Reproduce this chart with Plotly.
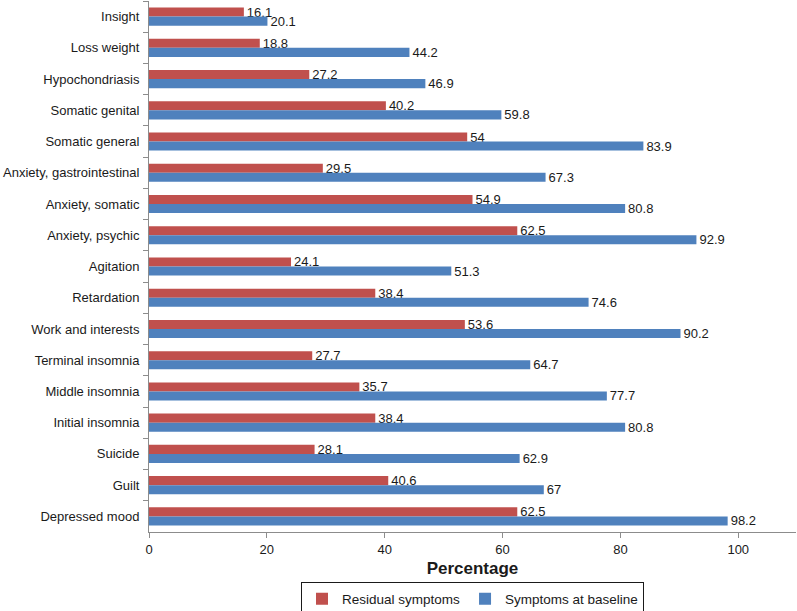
import plotly.graph_objects as go

categories = ["Insight", "Loss weight", "Hypochondriasis", "Somatic genital", "Somatic general",
              "Anxiety, gastrointestinal", "Anxiety, somatic", "Anxiety, psychic", "Agitation",
              "Retardation", "Work and interests", "Terminal insomnia", "Middle insomnia",
              "Initial insomnia", "Suicide", "Guilt", "Depressed mood"]
residual = [16.1, 18.8, 27.2, 40.2, 54, 29.5, 54.9, 62.5, 24.1, 38.4, 53.6, 27.7, 35.7, 38.4, 28.1, 40.6, 62.5]
baseline = [20.1, 44.2, 46.9, 59.8, 83.9, 67.3, 80.8, 92.9, 51.3, 74.6, 90.2, 64.7, 77.7, 80.8, 62.9, 67, 98.2]
x_ticks = [0, 20, 40, 60, 80, 100]

font = "Liberation Sans, Arial, sans-serif"

fig = go.Figure()
fig.add_trace(go.Bar(
    y=categories, x=residual, orientation="h", name="Residual symptoms",
    marker=dict(color="#C0504D", line=dict(width=0)),
    text=[str(v) for v in residual], textposition="outside", cliponaxis=False,
    constraintext="none",
    textfont=dict(family=font, size=13, color="#1a1a1a"),
))
fig.add_trace(go.Bar(
    y=categories, x=baseline, orientation="h", name="Symptoms at baseline",
    marker=dict(color="#4F81BD", line=dict(width=0)),
    text=[str(v) for v in baseline], textposition="outside", cliponaxis=False,
    constraintext="none",
    textfont=dict(family=font, size=13, color="#1a1a1a"),
))

fig.update_layout(
    width=797, height=611,
    margin=dict(l=149, r=1, t=1, b=79, autoexpand=False),
    barmode="group", bargap=0.42, bargroupgap=0,
    plot_bgcolor="white", paper_bgcolor="white",
    font=dict(family=font, size=13, color="#1a1a1a"),
    showlegend=True,
    legend=dict(orientation="h", x=0.5, xanchor="center", y=-0.095, yanchor="top",
                bordercolor="#1a1a1a", borderwidth=1, font=dict(size=13.5),
                itemwidth=30, tracegroupgap=0),
    xaxis=dict(range=[0, 109.8], tickvals=x_ticks, showgrid=False, zeroline=False,
               showline=True, linecolor="#8c8c8c", linewidth=1, automargin=False,
               ticks="outside", ticklen=5, tickcolor="#8c8c8c",
               tickfont=dict(size=13),
               title=dict(text="<b>Percentage</b>", font=dict(size=17), standoff=6)),
    yaxis=dict(autorange="reversed", showgrid=False, zeroline=False, automargin=False,
               showline=True, linecolor="#8c8c8c", linewidth=1,
               ticks="outside", ticklen=5, tickcolor="#8c8c8c", tickson="boundaries",
               ticklabelstandoff=6, tickfont=dict(size=13)),
)

fig.write_html("out.html", config={"displayModeBar": False},
               post_script="document.body.style.margin='0';")
